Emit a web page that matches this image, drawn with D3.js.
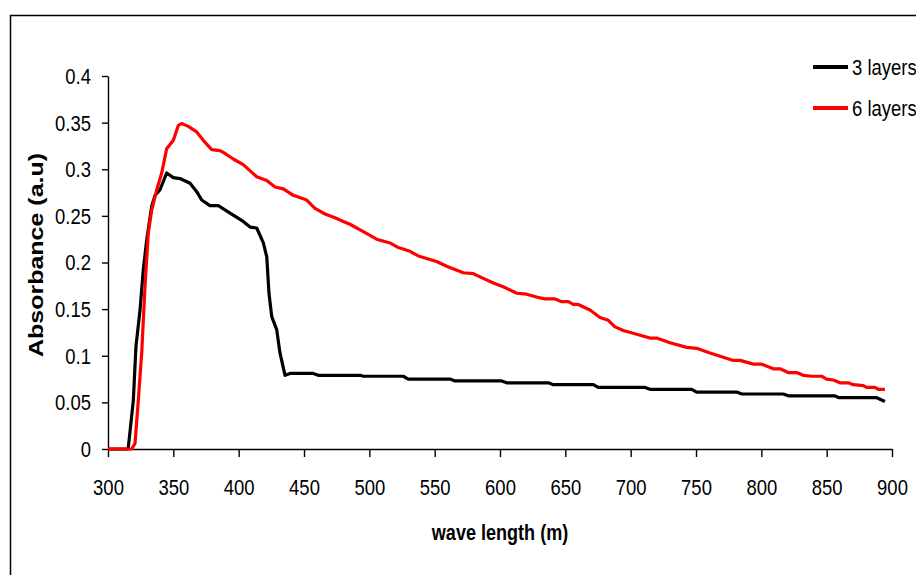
<!DOCTYPE html>
<html>
<head>
<meta charset="utf-8">
<script src="https://cdn.jsdelivr.net/npm/d3@7"></script>
<style>
body { margin: 0; background: #fff; }
svg { display: block; font-family: "Liberation Sans", Arial, sans-serif; }
</style>
</head>
<body>
<div id="chart"></div>
<script>
// 3 layers: wavelength / absorbance
const wl3 = [300, 314.5, 315.5, 319.4, 321.4, 324.5, 327, 329.6, 333.4, 336, 339.8, 344.9, 350, 355.1,
    362.8, 367.9, 371.7, 378, 384.4, 393.4, 403.5, 408.7, 413.8, 418.9, 421.5, 423.2, 425.3, 429.1,
    431.6, 435.5, 439.3, 457.1, 460.9, 492.9, 495.4, 526, 529.8, 561.7, 565.6, 601.3, 605.1, 637,
    640.8, 671.4, 675.2, 711, 714.8, 746.7, 750.5, 781.1, 785, 816.8, 820.6, 856.4, 859.4, 888.3, 894.6];
const abs3 = [0, 0, 0.001, 0.0525, 0.11, 0.149, 0.192, 0.224, 0.26, 0.272, 0.278, 0.296, 0.291, 0.29,
    0.285, 0.276, 0.267, 0.261, 0.261, 0.253, 0.244, 0.238, 0.237, 0.221, 0.206, 0.167, 0.142, 0.128,
    0.103, 0.079, 0.081, 0.081, 0.079, 0.079, 0.078, 0.078, 0.075, 0.075, 0.073, 0.073, 0.071, 0.071,
    0.069, 0.069, 0.066, 0.066, 0.064, 0.064, 0.061, 0.061, 0.059, 0.059, 0.057, 0.057, 0.055, 0.055, 0.051];

// 6 layers
const wl6 = [300, 318.1, 320.7, 323.2, 325.8, 328.3, 330.8, 333.4, 337.3, 341.1, 344.9, 350, 353.8, 356.4,
    361.5, 367.9, 372.9, 379.4, 385.7, 388.2, 395.9, 403.5, 413.8, 421.5, 427.8, 434.2, 441.8, 452.1,
    458.4, 466.1, 473.7, 480.1, 485.2, 495.4, 505.6, 515.8, 522.2, 531.1, 537.5, 551.5, 559.2, 571.9,
    579.6, 587.2, 594.9, 602.5, 612.8, 620.4, 630.6, 634.5, 642.1, 647.2, 652.3, 656.1, 659.9, 668.9,
    676.5, 682.9, 688, 694.4, 704.6, 714.8, 719.9, 730.1, 742.9, 750.5, 760.7, 769.7, 778.5, 783.7,
    793.9, 800.3, 809.2, 814.3, 820.6, 827, 832.1, 838.5, 846.2, 850, 855.1, 860.2, 866.6, 870.4,
    878, 880.6, 887, 889.5, 894.6];
const abs6 = [0, 0, 0.006, 0.0525, 0.103, 0.174, 0.231, 0.256, 0.278, 0.296, 0.322, 0.331, 0.347, 0.349,
    0.346, 0.34, 0.331, 0.321, 0.32, 0.318, 0.311, 0.305, 0.292, 0.288, 0.281, 0.279, 0.272, 0.267,
    0.258, 0.252, 0.248, 0.244, 0.241, 0.233, 0.225, 0.221, 0.216, 0.212, 0.207, 0.201, 0.196, 0.189,
    0.188, 0.183, 0.178, 0.174, 0.167, 0.166, 0.162, 0.161, 0.161, 0.158, 0.158, 0.155, 0.155, 0.149,
    0.141, 0.138, 0.131, 0.127, 0.123, 0.119, 0.119, 0.114, 0.109, 0.108, 0.103, 0.099, 0.095, 0.095,
    0.091, 0.091, 0.086, 0.086, 0.082, 0.082, 0.079, 0.078, 0.078, 0.075, 0.074, 0.071, 0.071, 0.069,
    0.068, 0.066, 0.066, 0.064, 0.064];

const seriesNames = ["3 layers", "6 layers"];
const seriesColors = ["#000000", "#ff0000"];
const xTicks = [300, 350, 400, 450, 500, 550, 600, 650, 700, 750, 800, 850, 900];
const yTicks = [0, 0.05, 0.1, 0.15, 0.2, 0.25, 0.3, 0.35, 0.4];
const xTitle = "wave length (m)";
const yTitle = "Absorbance (a.u)";

var width = 916, height = 575;
var sx = 0.84; // the original lettering is narrow

var svg = d3.select("#chart").append("svg")
    .attr("width", width)
    .attr("height", height);

// outer frame, runs off the right and bottom edges
svg.append("rect")
    .attr("x", 10.5).attr("y", 15.5)
    .attr("width", 1000).attr("height", 1000)
    .attr("fill", "none")
    .attr("stroke", "#000")
    .attr("stroke-width", 1.5);

var x = d3.scaleLinear().domain([300, 900]).range([108, 892]);
var y = d3.scaleLinear().domain([0, 0.4]).range([449, 76]);

// x axis
var gx = svg.append("g")
    .attr("transform", `translate(0,${y(0)})`)
    .call(d3.axisBottom(x).tickValues(xTicks).tickSize(8).tickSizeOuter(0).tickFormat(d3.format("d")));
gx.select(".domain").attr("stroke", "#000").attr("stroke-width", 1.4);
gx.selectAll(".tick line").attr("stroke", "#000").attr("stroke-width", 1.4);
gx.selectAll(".tick text")
    .attr("y", 46).attr("dy", 0)
    .attr("transform", `scale(${sx},1)`)
    .attr("font-size", 22)
    .attr("fill", "#000");

// y axis
var gy = svg.append("g")
    .attr("transform", `translate(${x(300)},0)`)
    .call(d3.axisLeft(y).tickValues(yTicks).tickSize(6).tickSizeOuter(0).tickFormat(d => d3.format("~g")(+d.toFixed(2))));
gy.select(".domain").attr("stroke", "#000").attr("stroke-width", 1.4);
gy.selectAll(".tick line").attr("stroke", "#000").attr("stroke-width", 1.4);
gy.selectAll(".tick text")
    .attr("x", -17 / sx).attr("dy", "0.34em")
    .attr("transform", `scale(${sx},1)`)
    .attr("font-size", 22)
    .attr("fill", "#000");

// titles
svg.append("text")
    .attr("transform", `translate(500,540) scale(${sx},1)`)
    .attr("text-anchor", "middle")
    .attr("font-size", 21.5)
    .attr("font-weight", "bold")
    .text(xTitle);

svg.append("text")
    .attr("transform", `translate(43,255) rotate(-90) scale(1,0.84)`)
    .attr("text-anchor", "middle")
    .attr("font-size", 25)
    .attr("font-weight", "bold")
    .text(yTitle);

// curves
var line = d3.line()
    .x(d => x(d[0]))
    .y(d => y(d[1]));

var series = [
    d3.zip(wl3, abs3),
    d3.zip(wl6, abs6)
];

series.forEach((pts, i) => {
    svg.append("path")
        .datum(pts)
        .attr("fill", "none")
        .attr("stroke", seriesColors[i])
        .attr("stroke-width", 3.2)
        .attr("stroke-linejoin", "round")
        .attr("d", line);
});

// legend
var legend = svg.append("g");
seriesNames.forEach((name, i) => {
    var ly = 67 + i * 41;
    legend.append("line")
        .attr("x1", 813).attr("x2", 848)
        .attr("y1", ly).attr("y2", ly)
        .attr("stroke", seriesColors[i])
        .attr("stroke-width", 4);
    legend.append("text")
        .attr("transform", `translate(852,${ly}) scale(${sx},1)`)
        .attr("dy", "0.36em")
        .attr("font-size", 22)
        .attr("fill", "#000")
        .text(name);
});
</script>
</body>
</html>
